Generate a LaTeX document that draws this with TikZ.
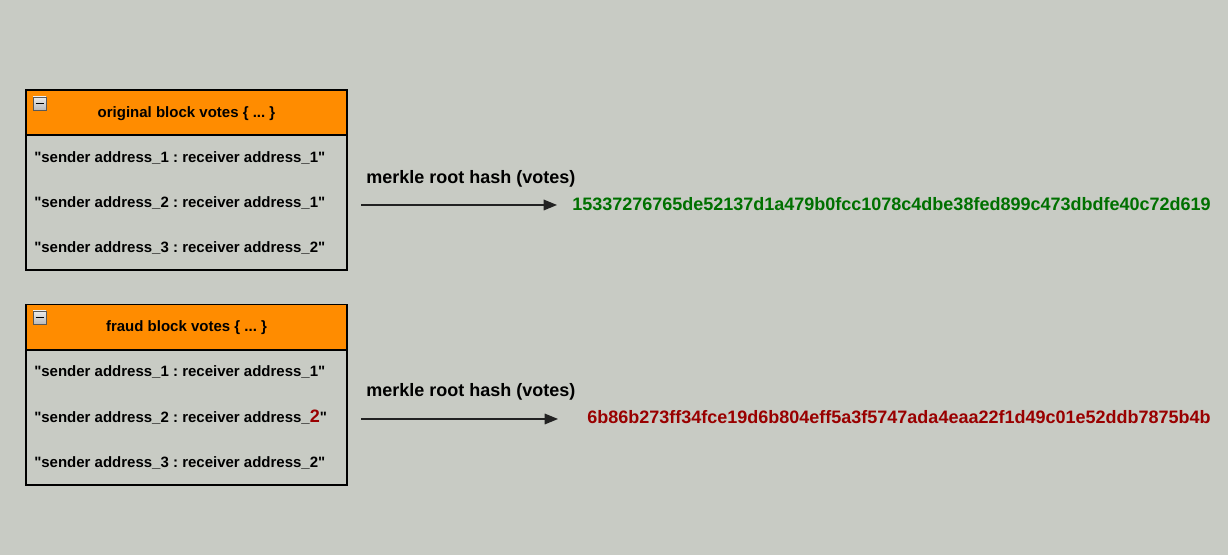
\documentclass[tikz,border=0pt]{standalone}
\usepackage{fontspec}
\newfontfamily\lsans{Liberation Sans}
\usetikzlibrary{arrows.meta}
\definecolor{bgc}{HTML}{C8CBC4}
\definecolor{hdr}{HTML}{FF8C00}
\definecolor{hashgreen}{HTML}{007000}
\definecolor{hashred}{HTML}{990000}
\definecolor{linec}{HTML}{222222}
\tikzset{
  headbox/.style={draw=black, line width=1pt, fill=hdr},
  bodybox/.style={draw=black, line width=1pt},
  rowtext/.style={anchor=base west, inner sep=0pt, font=\lsans\frenchspacing\fontsize{11.25pt}{13pt}\selectfont\bfseries},
  headtext/.style={anchor=base, inner sep=0pt, font=\lsans\frenchspacing\fontsize{11.25pt}{13pt}\selectfont\bfseries},
  lbltext/.style={anchor=base west, inner sep=0pt, font=\lsans\fontsize{13.5pt}{16pt}\selectfont\bfseries},
  hashtext/.style={anchor=base east, inner sep=0pt, font=\lsans\fontsize{13.5pt}{16pt}\selectfont\bfseries},
  arr/.style={draw=linec, line width=0.9pt, -{Triangle[length=10pt,width=8pt]}},
  icon/.style={draw=gray!70!black, line width=0.6pt, top color=gray!15, bottom color=gray!55}
}
\begin{document}
\begin{tikzpicture}[x=0.75pt,y=-0.75pt]
\fill[bgc] (0,0) rectangle (1228,555);
\useasboundingbox (0,0) rectangle (1228,555);

% ---- box 1 ----
\path[headbox] (26,90) rectangle (347,135);
\path[bodybox] (26,135) rectangle (347,270);
\path[icon] (33,97) rectangle (46,110);
\draw[line width=1.3pt] (35.5,103.5) -- (43.5,103.5);
\node[headtext] (h1) at (186.5,118) {original block votes \{ ... \}};
\node[rowtext] (r11) at (34,163) {"sender address\_1 : receiver address\_1"};
\node[rowtext] (r12) at (34,208) {"sender address\_2 : receiver address\_1"};
\node[rowtext] (r13) at (34,253) {"sender address\_3 : receiver address\_2"};

% ---- box 2 ----
\path[headbox] (26,304.5) rectangle (347,350);
\path[bodybox] (26,350) rectangle (347,485);
\path[icon] (33,311) rectangle (46,324);
\draw[line width=1.3pt] (35.5,317.5) -- (43.5,317.5);
\node[headtext] (h2) at (186.5,332) {fraud block votes \{ ... \}};
\node[rowtext] (r21) at (34,377) {"sender address\_1 : receiver address\_1"};
\node[rowtext] (r22) at (34,423) {"sender address\_2 : receiver address\_{\color{hashred}\fontsize{13.5pt}{16pt}\selectfont 2}"};
\node[rowtext] (r23) at (34,468) {"sender address\_3 : receiver address\_2"};

% ---- labels and hashes ----
\node[lbltext] (l1) at (366,184) {merkle root hash (votes)};
\node[hashtext, text=hashgreen] (hash1) at (1211,211) {15337276765de52137d1a479b0fcc1078c4dbe38fed899c473dbdfe40c72d619};
\node[lbltext] (l2) at (366,397) {merkle root hash (votes)};
\node[hashtext, text=hashred] (hash2) at (1211,424) {6b86b273ff34fce19d6b804eff5a3f5747ada4eaa22f1d49c01e52ddb7875b4b};

\coordinate (a1s) at (361,205);
\coordinate (a1e) at (557,205);
\coordinate (a2s) at (361,419);
\coordinate (a2e) at (558,419);
\draw[arr] (a1s) -- (a1e);
\draw[arr] (a2s) -- (a2e);
\end{tikzpicture}
\end{document}
